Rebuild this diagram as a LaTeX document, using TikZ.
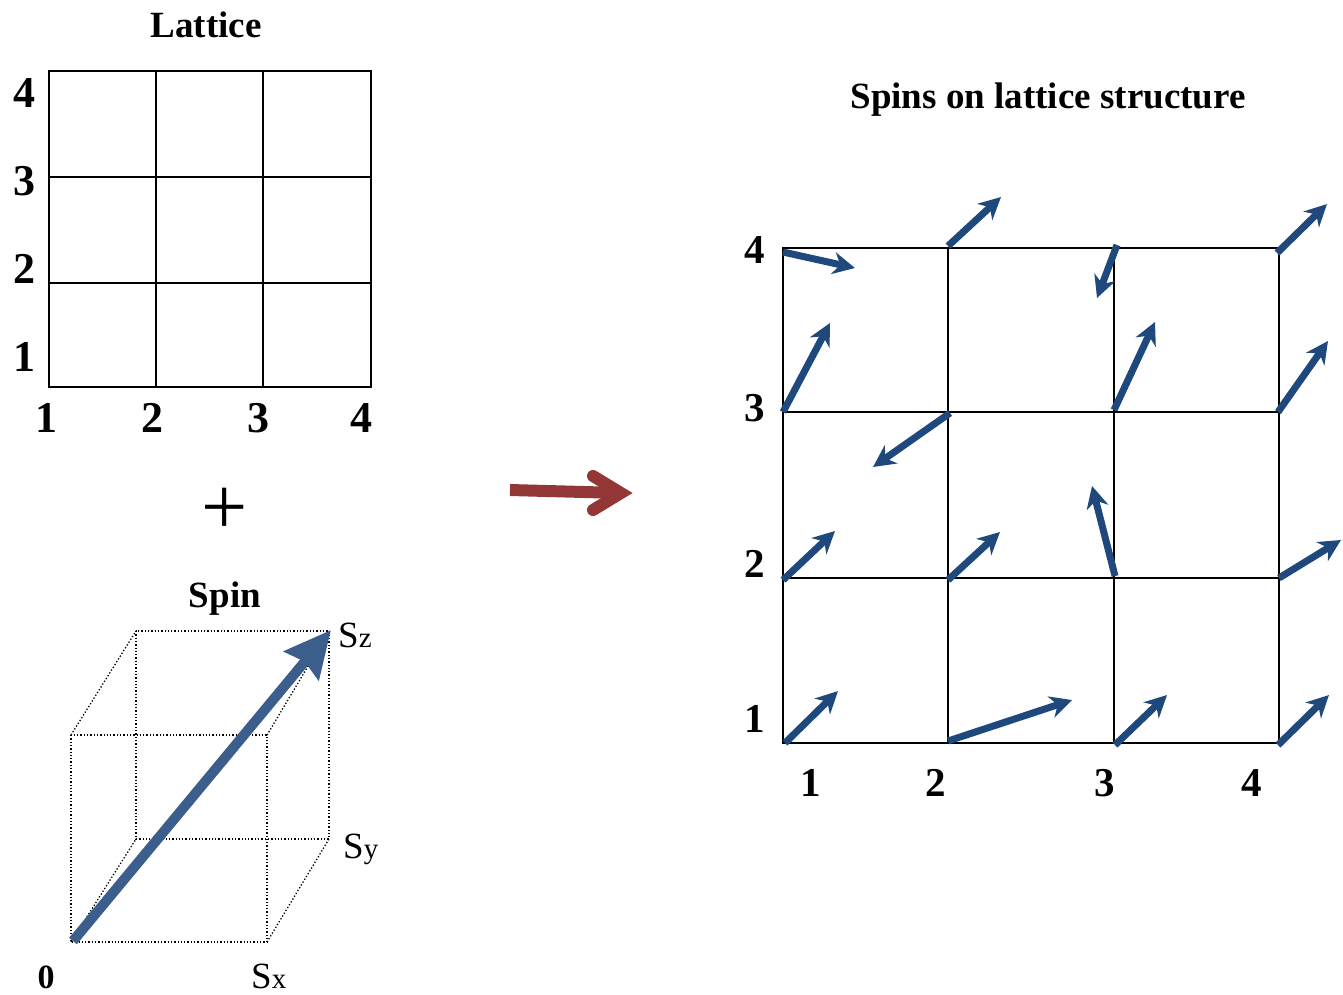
\documentclass[tikz,border=0pt]{standalone}
\usepackage{fontspec}
\setmainfont{Liberation Serif}
\usetikzlibrary{arrows.meta,calc}
\definecolor{spinblue}{RGB}{31,73,125}
\definecolor{cubeblue}{RGB}{59,94,140}
\definecolor{maparrow}{RGB}{147,55,54}
\newcommand{\compS}[1]{\fontsize{37}{40}\selectfont S\fontsize{29}{30}\selectfont #1}
\begin{document}
\begin{tikzpicture}[x=1pt,y=-1pt,
  title/.style={font=\fontsize{37}{40}\selectfont\bfseries, anchor=base, inner sep=0},
  lnum/.style={font=\fontsize{44}{46}\selectfont\bfseries, inner sep=0},
  rnum/.style={font=\fontsize{41}{44}\selectfont\bfseries, inner sep=0},
  comp/.style={anchor=base west, inner sep=0},
  gridL/.style={line width=2pt},
  gridR/.style={line width=2.6pt},
  cubeline/.style={dotted, line width=1.3pt},
  spinarrow/.style={line width=7pt, spinblue, -{Stealth[length=22pt,width=22pt,inset=7pt]}},
  bigspin/.style={line width=10pt, cubeblue, -{Stealth[length=46pt,width=44pt,inset=5pt]}},
  maparrowline/.style={line width=12pt, maparrow}
]
\useasboundingbox (0,0) rectangle (1343,994);

% ---------- Lattice ----------
\node[title] (lattitle) at (206,37) {Lattice};
\draw[gridL] (49,71) rectangle (371,387);
\foreach \x in {156,263} \draw[gridL] (\x,71) -- (\x,387);
\foreach \y in {177,283} \draw[gridL] (49,\y) -- (371,\y);
\node[lnum] (ly4) at (24,93) {4};
\node[lnum] (ly3) at (24,181) {3};
\node[lnum] (ly2) at (24,269) {2};
\node[lnum] (ly1) at (24,357) {1};
\node[lnum] (lx1) at (46,418) {1};
\node[lnum] (lx2) at (152,418) {2};
\node[lnum] (lx3) at (258,418) {3};
\node[lnum] (lx4) at (361,418) {4};

% ---------- plus ----------
\node[font=\fontsize{82}{84}\selectfont, inner sep=0] (plus) at (225,511) {+};

% ---------- Spin ----------
\node[title] (spintitle) at (225,607) {Spin};
\draw[cubeline] (71,735) rectangle (267,942);
\draw[cubeline] (136,631) rectangle (329,839);
\draw[cubeline] (71,735) -- (136,631);
\draw[cubeline] (267,735) -- (329,631);
\draw[cubeline] (71,942) -- (136,839);
\draw[cubeline] (267,942) -- (329,839);
\coordinate (origin) at (73,941);
\coordinate (sztip) at (331,630);
\draw[bigspin] (origin) -- (sztip);
\node[comp] (sz) at (338,647) {\compS{z}};
\node[comp] (sy) at (343,858) {\compS{y}};
\node[comp] (sx) at (251,988) {\compS{x}};
\node[font=\fontsize{34}{36}\selectfont\bfseries, anchor=base, inner sep=0] (zero) at (46,988) {0};

% ---------- mapping arrow ----------
\coordinate (mapA) at (510,490);
\coordinate (mapB) at (621,493);
\draw[maparrowline] (mapA) -- (mapB);
\draw[maparrowline, line cap=round, line join=miter] ($(mapB)+(-28,-17)$) -- (mapB) -- ($(mapB)+(-28,17)$);

% ---------- Spins on lattice ----------
\node[title] (rtitle) at (1048,108) {Spins on lattice structure};
\draw[gridR] (783,248) rectangle (1279,743);
\foreach \x in {948,1114} \draw[gridR] (\x,248) -- (\x,743);
\foreach \y in {412,578} \draw[gridR] (783,\y) -- (1279,\y);
\node[rnum] (ry4) at (755,250) {4};
\node[rnum] (ry3) at (755,408) {3};
\node[rnum] (ry2) at (755,564) {2};
\node[rnum] (ry1) at (755,719) {1};
\node[rnum] (rx1) at (811,783) {1};
\node[rnum] (rx2) at (936,783) {2};
\node[rnum] (rx3) at (1105,783) {3};
\node[rnum] (rx4) at (1252,783) {4};

\foreach \sx/\sy/\ex/\ey in {
  783/252/855/268, 948/246/1001/197, 1117/245/1097/298, 1277/253/1327/204,
  783/412/830/323, 950/413/873/467, 1114/410/1155/322, 1278/412/1328/341,
  783/580/835/531, 948/580/1000/532, 1115/576/1092/486, 1279/578/1341/540,
  785/743/838/691, 948/741/1072/700, 1115/745/1167/695, 1278/745/1329/695}
  \draw[spinarrow] (\sx,\sy) -- (\ex,\ey);
\end{tikzpicture}
\end{document}
